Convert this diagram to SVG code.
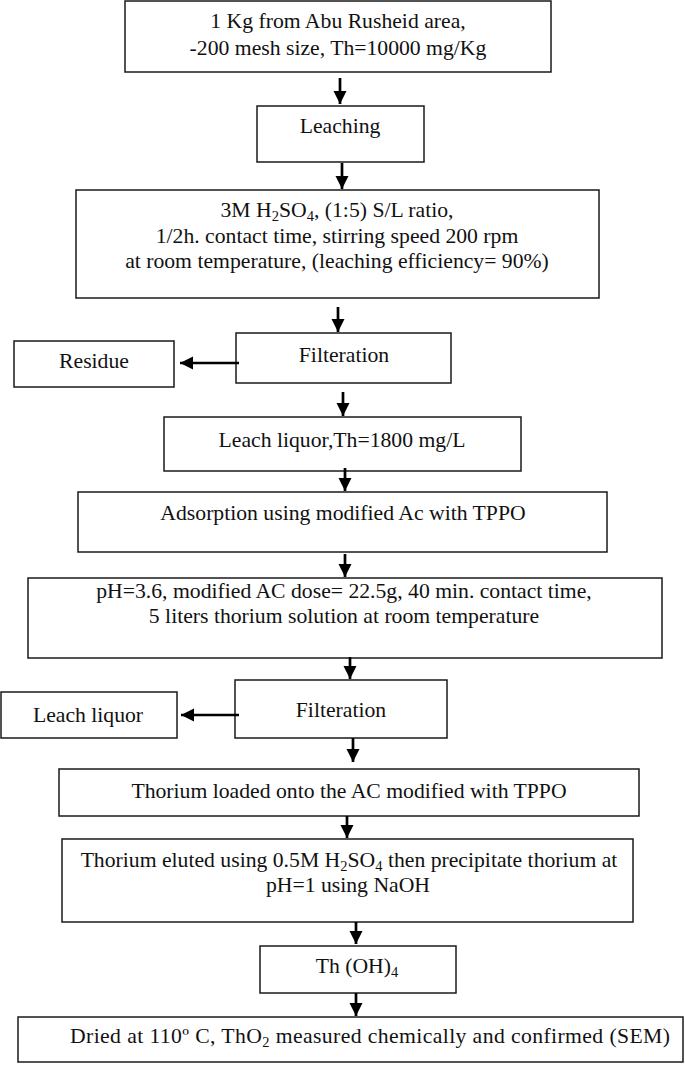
<svg xmlns="http://www.w3.org/2000/svg" width="685" height="1071" viewBox="0 0 685 1071">
<style>
.box{fill:#fff;stroke:#1a1a1a;stroke-width:1.5}
.t{font-family:"Liberation Serif","Times New Roman",serif;font-size:21.7px;fill:#111;text-anchor:middle}
.sub{font-size:14.5px}
.conn line{stroke:#000;stroke-width:2.7}
</style>
<defs>
<marker id="ah" markerUnits="userSpaceOnUse" markerWidth="14" markerHeight="14" viewBox="0 0 14 14" refX="13" refY="7" orient="auto">
<path d="M0,0.5 L13,7 L0,13.5 Z" fill="#000"/>
</marker>
</defs>
<rect width="685" height="1071" fill="#fff"/>
<g id="n1"><rect class="box" x="125" y="1" width="426" height="71"/>
<text class="t" x="338" y="28">1 Kg from Abu Rusheid area,</text>
<text class="t" x="338" y="55">-200 mesh size, Th=10000 mg/Kg</text></g>
<g id="n2"><rect class="box" x="257" y="106" width="167" height="56"/>
<text class="t" x="340" y="133">Leaching</text></g>
<g id="n3"><rect class="box" x="76" y="190" width="523" height="108"/>
<text class="t" x="337" y="217">3M H<tspan class="sub" dy="4">2</tspan><tspan dy="-4">SO</tspan><tspan class="sub" dy="4">4</tspan><tspan dy="-4">, (1:5) S/L ratio,</tspan></text>
<text class="t" x="337" y="243">1/2h. contact time, stirring speed 200 rpm</text>
<text class="t" x="337" y="268">at room temperature, (leaching efficiency= 90%)</text></g>
<g id="n4"><rect class="box" x="236" y="333" width="215" height="50"/>
<text class="t" x="344" y="362">Filteration</text></g>
<g id="n5"><rect class="box" x="14" y="341" width="160" height="46"/>
<text class="t" x="94" y="368">Residue</text></g>
<g id="n6"><rect class="box" x="164" y="417" width="357" height="54"/>
<text class="t" x="342" y="447">Leach liquor,Th=1800 mg/L</text></g>
<g id="n7"><rect class="box" x="78" y="492" width="529" height="60"/>
<text class="t" x="343" y="520">Adsorption using modified Ac with TPPO</text></g>
<g id="n8"><rect class="box" x="28" y="578" width="634" height="80"/>
<text class="t" x="344" y="598">pH=3.6, modified AC dose= 22.5g, 40 min. contact time,</text>
<text class="t" x="344" y="623">5 liters thorium solution at room temperature</text></g>
<g id="n9"><rect class="box" x="235" y="680" width="212" height="58"/>
<text class="t" x="341" y="717">Filteration</text></g>
<g id="n10"><rect class="box" x="1" y="692" width="176" height="46"/>
<text class="t" x="88" y="722">Leach liquor</text></g>
<g id="n11"><rect class="box" x="59" y="769" width="580" height="47"/>
<text class="t" x="349" y="798">Thorium loaded onto the AC modified with TPPO</text></g>
<g id="n12"><rect class="box" x="62" y="839" width="571" height="83"/>
<text class="t" x="349" y="867">Thorium eluted using 0.5M H<tspan class="sub" dy="4">2</tspan><tspan dy="-4">SO</tspan><tspan class="sub" dy="4">4</tspan><tspan dy="-4"> then precipitate thorium at</tspan></text>
<text class="t" x="348" y="892">pH=1 using NaOH</text></g>
<g id="n13"><rect class="box" x="260" y="946" width="196" height="47"/>
<text class="t" x="357" y="973">Th (OH)<tspan class="sub" dy="4">4</tspan></text></g>
<g id="n14"><rect class="box" x="18" y="1017" width="665" height="45"/>
<text class="t" x="370" y="1043" textLength="600" lengthAdjust="spacing">Dried at 110º C, ThO<tspan class="sub" dy="4">2</tspan><tspan dy="-4"> measured chemically and confirmed (SEM)</tspan></text></g>
<g id="connectors" class="conn">
<line x1="340" y1="78" x2="340" y2="104" marker-end="url(#ah)"/>
<line x1="342" y1="163" x2="342" y2="189" marker-end="url(#ah)"/>
<line x1="338" y1="307" x2="338" y2="332" marker-end="url(#ah)"/>
<line x1="239" y1="363" x2="180" y2="363" marker-end="url(#ah)"/>
<line x1="343" y1="392" x2="343" y2="416" marker-end="url(#ah)"/>
<line x1="345" y1="468" x2="345" y2="491" marker-end="url(#ah)"/>
<line x1="345" y1="554" x2="345" y2="577" marker-end="url(#ah)"/>
<line x1="350" y1="657" x2="350" y2="679" marker-end="url(#ah)"/>
<line x1="239" y1="715" x2="181" y2="715" marker-end="url(#ah)"/>
<line x1="353" y1="738" x2="353" y2="762" marker-end="url(#ah)"/>
<line x1="347" y1="816" x2="347" y2="838" marker-end="url(#ah)"/>
<line x1="356" y1="922" x2="356" y2="944" marker-end="url(#ah)"/>
<line x1="356" y1="993" x2="356" y2="1016" marker-end="url(#ah)"/>
</g>
</svg>
